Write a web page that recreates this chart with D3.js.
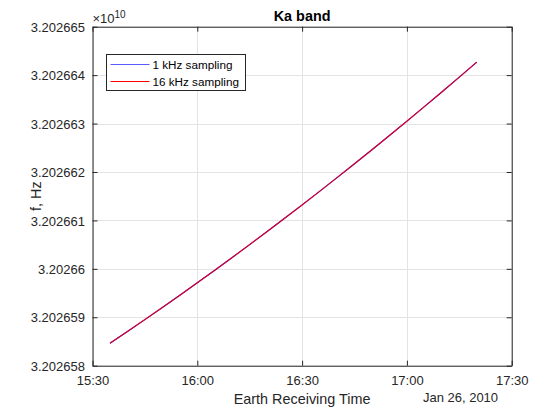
<!DOCTYPE html>
<html>
<head>
<meta charset="utf-8">
<script src="https://cdn.jsdelivr.net/npm/d3@7/dist/d3.min.js"></script>
<style>
  html, body { margin: 0; padding: 0; background: #fff; }
  svg { display: block; font-family: "Liberation Sans", Arial, Helvetica, sans-serif; }
</style>
</head>
<body>
<svg id="chart" width="534" height="412"></svg>
<script>
// Earth receiving times (Jan 26, 2010) and received Ka-band frequency, Hz
const times = ["15:35","15:40","15:45","15:50","15:55","16:00","16:05","16:10","16:15","16:20","16:25",
               "16:30","16:35","16:40","16:45","16:50","16:55","17:00","17:05","17:10","17:15","17:20"];
const freq1k = [32026584630, 32026587060, 32026589520, 32026592020, 32026594550, 32026597120,
                32026599710, 32026602340, 32026605010, 32026607710, 32026610440, 32026613200,
                32026616000, 32026618830, 32026621700, 32026624600, 32026627530, 32026630490,
                32026633490, 32026636520, 32026639590, 32026642690];
const freq16k = [32026584630, 32026587060, 32026589520, 32026592020, 32026594550, 32026597120,
                 32026599710, 32026602340, 32026605010, 32026607710, 32026610440, 32026613200,
                 32026616000, 32026618830, 32026621700, 32026624600, 32026627530, 32026630490,
                 32026633490, 32026636520, 32026639590, 32026642690];
const seriesNames = ["1 kHz sampling", "16 kHz sampling"];
const xTickLabels = ["15:30", "16:00", "16:30", "17:00", "17:30"];
const yTickValues = [3.202658, 3.202659, 3.20266, 3.202661, 3.202662, 3.202663, 3.202664, 3.202665];
const yTickLabels = ["3.202658", "3.202659", "3.20266", "3.202661", "3.202662", "3.202663", "3.202664", "3.202665"];
const dateLabel = "Jan 26, 2010";

const parse = d3.timeParse("%Y-%m-%d %H:%M");
const day = "2010-01-26 ";
const svg = d3.select("#chart");
const M = { left: 92.5, right: 511.7, top: 26.7, bottom: 365.7 };
const ink = "#262626";
const font = '"Liberation Sans", Arial, sans-serif';

const x = d3.scaleTime()
  .domain([parse(day + "15:30"), parse(day + "17:30")])
  .range([M.left, M.right]);
// y axis is shown in units of 1e10 Hz
const y = d3.scaleLinear().domain([3.202658, 3.202665]).range([M.bottom, M.top]);

const xTicks = xTickLabels.map(t => parse(day + t));

// grid
const g = svg.append("g");
g.selectAll("line.gx").data(xTicks).enter().append("line")
  .attr("x1", d => Math.round(x(d)) + 0.5).attr("x2", d => Math.round(x(d)) + 0.5)
  .attr("y1", M.top).attr("y2", M.bottom).attr("stroke", "#e3e3e3").attr("stroke-width", 1);
g.selectAll("line.gy").data(yTickValues).enter().append("line")
  .attr("y1", d => Math.round(y(d)) + 0.5).attr("y2", d => Math.round(y(d)) + 0.5)
  .attr("x1", M.left).attr("x2", M.right).attr("stroke", "#e3e3e3").attr("stroke-width", 1);

// data lines
const pts = (vals) => times.map((t, i) => [parse(day + t), vals[i] / 1e10]);
const lineGen = d3.line().x(d => x(d[0])).y(d => y(d[1]));
svg.append("path").datum(pts(freq1k)).attr("d", lineGen)
  .attr("fill", "none").attr("stroke", "#0000ff").attr("stroke-width", 1.1);
svg.append("path").datum(pts(freq16k)).attr("d", lineGen)
  .attr("fill", "none").attr("stroke", "#ff0000").attr("stroke-width", 1.2).attr("stroke-opacity", 0.85);

// axes
const axB = svg.append("g").attr("transform", `translate(0,${M.bottom})`)
  .call(d3.axisBottom(x).tickValues(xTicks).tickFormat((d, i) => xTickLabels[i]).tickSizeInner(-5).tickSizeOuter(0));
const axT = svg.append("g").attr("transform", `translate(0,${M.top})`)
  .call(d3.axisTop(x).tickValues(xTicks).tickFormat("").tickSizeInner(-5).tickSizeOuter(0));
const axL = svg.append("g").attr("transform", `translate(${M.left},0)`)
  .call(d3.axisLeft(y).tickValues(yTickValues).tickFormat((d, i) => yTickLabels[i]).tickSizeInner(-5).tickSizeOuter(0).tickPadding(7.5));
const axR = svg.append("g").attr("transform", `translate(${M.right},0)`)
  .call(d3.axisRight(y).tickValues(yTickValues).tickFormat("").tickSizeInner(-5).tickSizeOuter(0));
[axB, axT, axL, axR].forEach(a => {
  a.select(".domain").attr("stroke", ink).attr("stroke-width", 1);
  a.selectAll(".tick line").attr("stroke", ink);
  a.selectAll("text").attr("fill", ink).style("font-size", "13px").style("font-family", font);
});
axB.selectAll("text").attr("y", 19.5).attr("dy", null);
axL.selectAll("text").attr("dy", "0.36em");

// exponent marker
const ex = svg.append("text").attr("x", M.left).attr("y", 22.5).attr("fill", ink)
  .style("font-size", "13px").style("font-family", font);
ex.append("tspan").text("\u00d710");
ex.append("tspan").attr("dy", -5).style("font-size", "10px").text("10");

// title and labels
svg.append("text").attr("x", (M.left + M.right) / 2).attr("y", 20.5).attr("text-anchor", "middle")
  .attr("fill", "#000").style("font-size", "14.4px").style("font-weight", "bold").text("Ka band");
svg.append("text").attr("x", (M.left + M.right) / 2).attr("y", 403.5).attr("text-anchor", "middle")
  .attr("fill", ink).style("font-size", "14.4px").text("Earth Receiving Time");
svg.append("text").attr("x", 460.5).attr("y", 402).attr("text-anchor", "middle")
  .attr("fill", ink).style("font-size", "13px").text(dateLabel);
svg.append("text").attr("transform", `translate(40.5,${(M.top + M.bottom) / 2}) rotate(-90)`)
  .attr("text-anchor", "middle").attr("fill", ink).style("font-size", "14.4px").text("f, Hz");

// legend
const lg = svg.append("g");
lg.append("rect").attr("x", 106.5).attr("y", 54.5).attr("width", 139).attr("height", 36)
  .attr("fill", "#fff").attr("stroke", ink).attr("stroke-width", 1);
const legColors = ["#5a5aff", "#ff0000"];
seriesNames.forEach((name, i) => {
  const yy = 64.5 + i * 17;
  lg.append("line").attr("x1", 110.5).attr("x2", 149.5).attr("y1", yy).attr("y2", yy)
    .attr("stroke", legColors[i]).attr("stroke-width", 1);
  lg.append("text").attr("x", 152.5).attr("y", yy + 4.3).attr("fill", "#000")
    .style("font-size", "11.7px").text(name);
});
</script>
</body>
</html>
